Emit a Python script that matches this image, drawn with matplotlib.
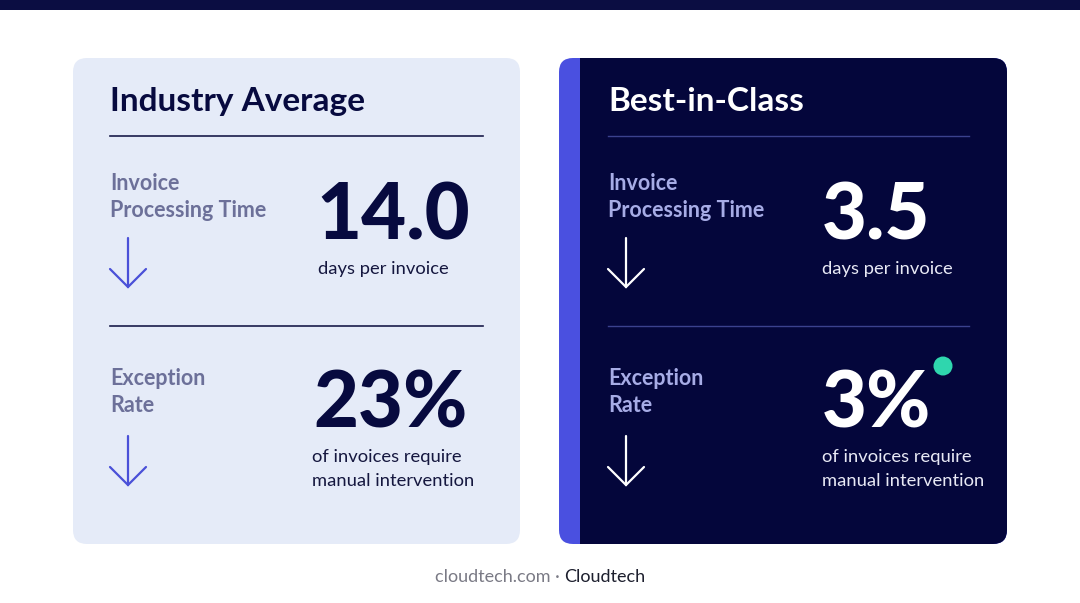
import matplotlib.pyplot as plt
from matplotlib.patches import FancyBboxPatch, Rectangle, Circle

# data shown on the two cards
card_titles = ["Industry Average", "Best-in-Class"]
metric_labels = [["Invoice", "Processing Time"], ["Exception", "Rate"]]
industry_values = ["14.0", "23%"]
best_values = ["3.5", "3%"]
metric_units = [["days per invoice"], ["of invoices require", "manual intervention"]]
footer_site = "cloudtech.com · "
footer_brand = "Cloudtech"

NAVY = "#070a3f"
plt.rcParams['font.family'] = ['Lato', 'DejaVu Sans']

fig = plt.figure(figsize=(10.8, 6.03), dpi=100)
ax = fig.add_axes([0, 0, 1, 1])
ax.set_xlim(0, 1080)
ax.set_ylim(603, 0)
ax.axis('off')

# top bar
ax.add_patch(Rectangle((0, 0), 1080, 9.5, color="#0b0d42", lw=0))

cards = [
    dict(x=73, w=447, fill="#e5ebf8", title_c=NAVY, line_c="#1a1c4a", lw=1.2,
         label_c="#6c7099", arrow_c="#4a50d8", val_c=NAVY, unit_c="#15173f",
         values=industry_values, tx=110, lx1=483, vx=[316, 313], ux=[318, 312]),
    dict(x=559, w=448, fill="#04063b", title_c="white", line_c="#3b418e", lw=1.0,
         label_c="#a7ace6", arrow_c="white", val_c="white", unit_c="#e8e9f5",
         values=best_values, tx=608, lx1=969, vx=[822, 822], ux=[822, 822]),
]

top, bottom = 58, 544
# vertical offsets of the second metric block
lab_off = [0, 195]
arr_off = [0, 198]
val_off = [0, 187]
unit_off = [0, 188]
line_y = [136, 326]

for i, c in enumerate(cards):
    if i == 1:
        base = FancyBboxPatch((c['x'], top), c['w'], bottom - top,
                              boxstyle="round,pad=0,rounding_size=14",
                              fc="#4a50e0", ec="none")
        ax.add_patch(base)
        inner = Rectangle((c['x'] + 21, top), c['w'] - 21, bottom - top,
                          fc=c['fill'], ec="none")
        ax.add_patch(inner)
        inner.set_clip_path(base)
    else:
        ax.add_patch(FancyBboxPatch((c['x'], top), c['w'], bottom - top,
                                    boxstyle="round,pad=0,rounding_size=14",
                                    fc=c['fill'], ec="none"))

    ax.text(c['tx'], 111, card_titles[i], fontsize=24, fontweight='bold',
            color=c['title_c'], va='baseline', ha='left')

    for k in range(2):
        ax.plot([c['tx'], c['lx1']], [line_y[k], line_y[k]],
                color=c['line_c'], lw=c['lw'])
        for j, line in enumerate(metric_labels[k]):
            ax.text(c['tx'], 190 + lab_off[k] + j * 27, line, fontsize=15.5,
                    fontweight='bold', color=c['label_c'], va='baseline')
        # down arrow
        ax_x = c['tx'] + 18
        y0, y1 = 238 + arr_off[k], 287 + arr_off[k]
        ax.plot([ax_x, ax_x], [y0, y1], color=c['arrow_c'], lw=1.6,
                solid_capstyle='round')
        ax.plot([ax_x - 18, ax_x, ax_x + 18], [y1 - 18, y1, y1 - 18],
                color=c['arrow_c'], lw=1.6, solid_capstyle='round',
                solid_joinstyle='miter')
        # value
        ax.text(c['vx'][k], 240 + val_off[k], c['values'][k], fontsize=56,
                fontweight='black', color=c['val_c'], va='baseline')
        for j, line in enumerate(metric_units[k]):
            ax.text(c['ux'][k], 274 + unit_off[k] + j * 24, line, fontsize=13.2,
                    color=c['unit_c'], va='baseline')

# status dot beside the best-in-class exception rate
ax.add_patch(Circle((943, 366), 9.5, color="#2fd6ae", lw=0))

# footer, centred as one line in two colours
t = ax.text(0, 582, footer_site, fontsize=13, color="#7a7a85",
            ha='left', va='baseline')
b = ax.text(0, 582, footer_brand, fontsize=13, color="#1d1f2e",
            ha='left', va='baseline')
fig.canvas.draw()
w1 = t.get_window_extent().width
w2 = b.get_window_extent().width
x0 = 540 - (w1 + w2) / 2
t.set_x(x0)
b.set_x(x0 + w1)

fig.savefig("out.png", dpi=100)
